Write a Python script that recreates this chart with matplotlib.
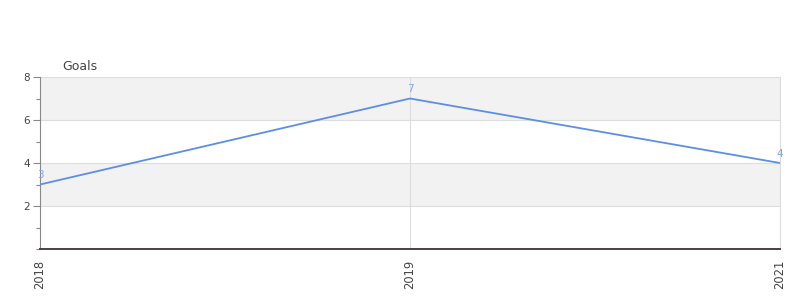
import numpy as np
import matplotlib
matplotlib.use("Agg")
import matplotlib.pyplot as plt
from matplotlib.ticker import MultipleLocator

# data
years = ["2018", "2019", "2021"]
goals = [3, 7, 4]

line_col = "#5b8ee6"
label_col = "#7fa5ea"
grid_col = "#dddddd"
band_col = "#f2f2f2"
text_col = "#444444"

fig = plt.figure(figsize=(8, 3), dpi=100, facecolor="white")
ax = fig.add_axes([0.05, 0.17, 0.925, 0.5733])

x = np.arange(len(years))
ax.set_xlim(0, len(years) - 1)
ax.set_ylim(0, 8)

# alternating bands
for lo in range(0, 8, 2):
    if (lo // 2) % 2 == 1:
        ax.axhspan(lo, lo + 2, color=band_col, zorder=0, lw=0)
for yv in [2, 4, 6, 8]:
    ax.axhline(yv, color=grid_col, lw=0.8, zorder=1)
for xv in x[1:]:
    ax.axvline(xv, color=grid_col, lw=0.8, zorder=1)

ax.plot(x, goals, color=line_col, lw=1.3, zorder=3)
ax.axhline(0, color="#d01010", lw=0.8, zorder=4)

for xi, v in zip(x, goals):
    ax.annotate(str(v), (xi, v), xytext=(0, 3), textcoords="offset points",
                ha="center", va="bottom", fontsize=7.5, color=label_col)

ax.set_yticks([2, 4, 6, 8])
ax.set_yticks([0, 1, 3, 5, 7], minor=True)
ax.set_xticks(x)
ax.set_xticklabels(years, rotation=90)
ax.tick_params(axis="y", which="major", length=5, width=0.8, color="#888888",
               labelsize=7.5, labelcolor=text_col, pad=2)
ax.tick_params(axis="y", which="minor", length=3, width=0.8, color="#888888")
ax.tick_params(axis="x", length=0, labelsize=8.3, labelcolor=text_col, pad=8)

ax.spines["top"].set_visible(False)
ax.spines["right"].set_color(grid_col)
ax.spines["right"].set_linewidth(0.8)
ax.spines["left"].set_color("#888888")
ax.spines["left"].set_linewidth(0.8)
ax.spines["bottom"].set_color("#444444")
ax.spines["bottom"].set_linewidth(1.4)

fig.text(62 / 800, 1 - 66 / 300, "Goals", fontsize=9, color=text_col,
         ha="left", va="center")

plt.savefig("out.png", dpi=100, facecolor="white")
